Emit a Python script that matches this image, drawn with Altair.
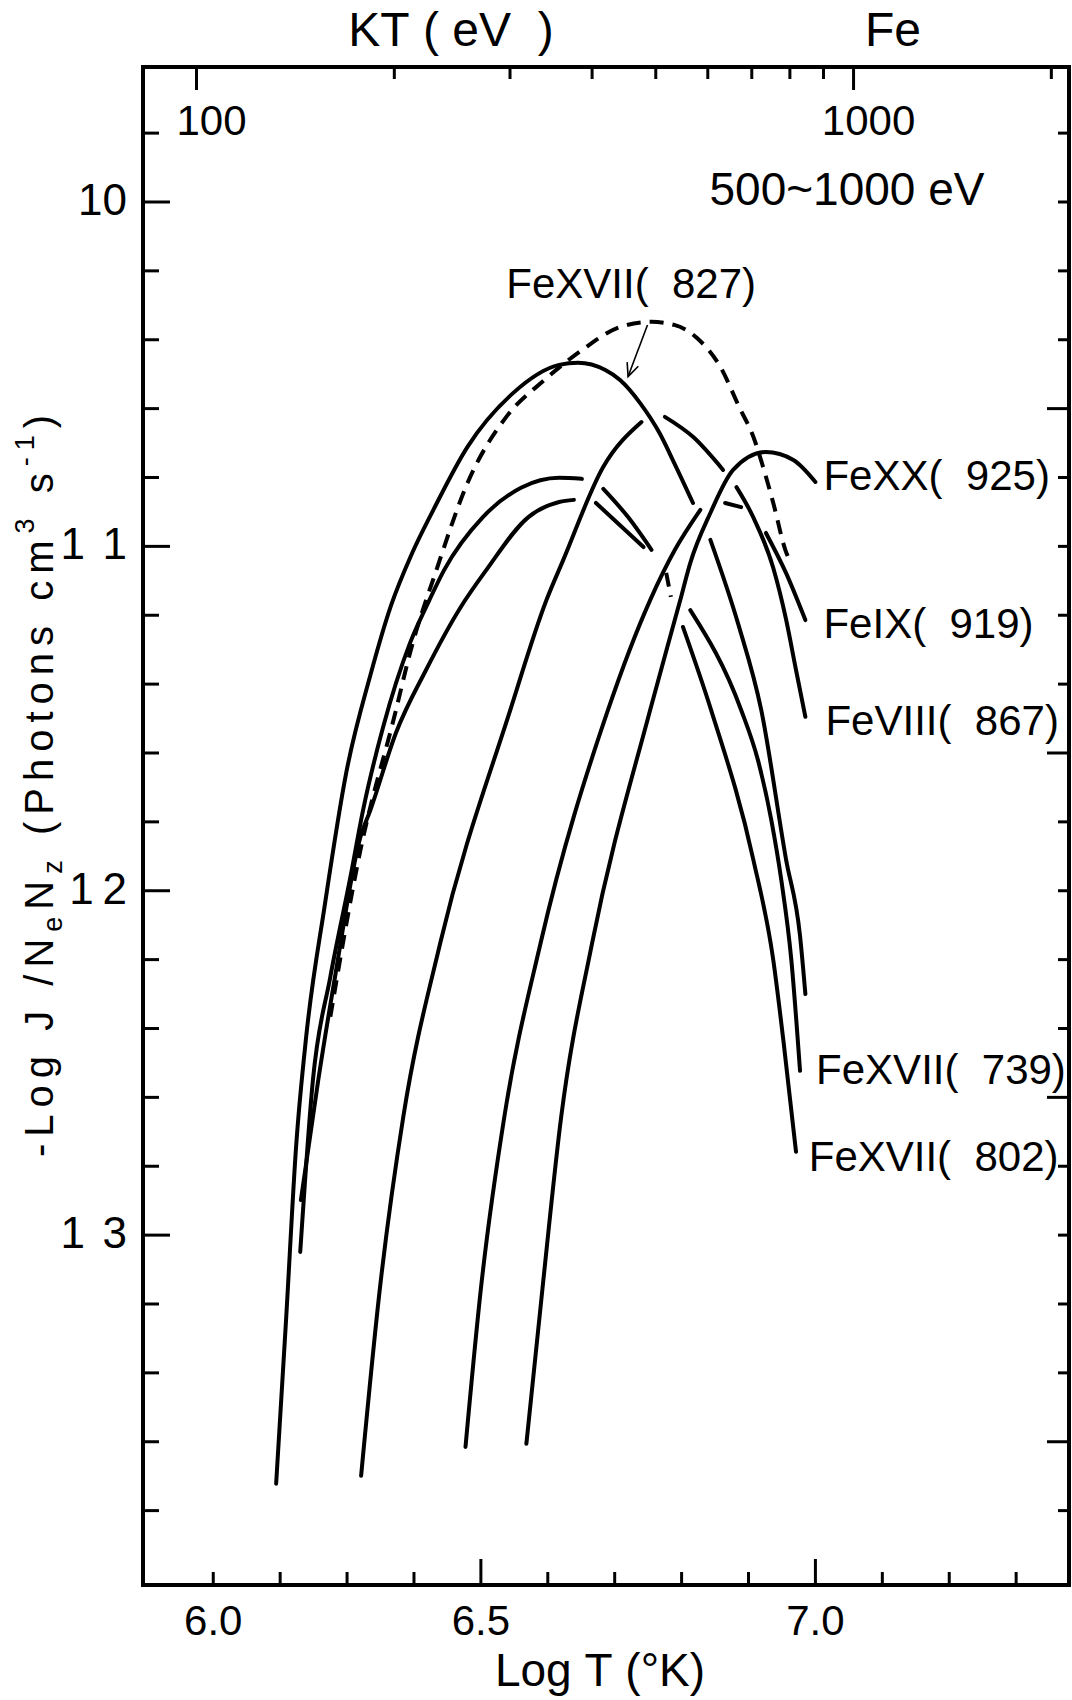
import math
import altair as alt
import pandas as pd

FONT = "Liberation Sans"

# ---------------- curves: x = log T (K), y = -log J/(Ne Nz) ----------------
# each curve is given as drawn pieces (the original breaks lines where others cross)
fe17_827_x = [[6.194, 6.209, 6.224, 6.239, 6.267, 6.299, 6.335, 6.366, 6.396, 6.429, 6.480, 6.548,
               6.617, 6.645, 6.686, 6.708, 6.738, 6.767, 6.789, 6.817],
              [6.843, 6.885, 6.919, 6.956, 6.977, 6.985]]
fe17_827_y = [[13.722, 13.240, 12.738, 12.422, 12.038, 11.655, 11.373, 11.170, 11.025, 10.894, 10.711, 10.555,
               10.473, 10.467, 10.488, 10.517, 10.584, 10.671, 10.758, 10.874],
              [10.981, 11.228, 11.475, 11.908, 12.131, 12.300]]

fe8_867_x = [[6.321, 6.349, 6.384, 6.439, 6.544, 6.598, 6.623, 6.683, 6.740],
             [6.775, 6.817, 6.862],
             [6.882, 6.907, 6.937, 6.956, 6.971, 6.985]]
fe8_867_y = [[13.699, 13.156, 12.657, 12.154, 11.475, 11.156, 11.040, 10.769, 10.639],
             [10.624, 10.682, 10.778],
             [10.828, 10.915, 11.063, 11.211, 11.359, 11.495]]

fe9_919_x = [[6.477, 6.500, 6.535, 6.589, 6.690, 6.753, 6.790, 6.828],
             [6.865, 6.889],
             [6.926, 6.956, 6.985]]
fe9_919_y = [[13.615, 13.156, 12.657, 12.154, 11.475, 11.156, 11.010, 10.894],
             [10.874, 10.886],
             [10.961, 11.077, 11.214]]

fe20_925_x = [[6.568, 6.592, 6.620, 6.666, 6.753, 6.798, 6.813, 6.843, 6.877, 6.926, 6.967, 7.000]]
fe20_925_y = [[13.606, 13.156, 12.657, 12.154, 11.475, 11.156, 11.048, 10.903, 10.778, 10.726, 10.749, 10.813]]

fe17_739_x = [[6.230, 6.249, 6.275, 6.305, 6.324, 6.354, 6.394, 6.423, 6.445, 6.503, 6.560, 6.617, 6.651],
              [6.683, 6.720, 6.755],
              [6.813, 6.889, 6.914, 6.934, 6.949, 6.964, 6.977]]
fe17_739_y = [[13.049, 12.549, 12.250, 11.960, 11.765, 11.524, 11.281, 11.156, 11.069, 10.915, 10.830, 10.801, 10.804],
              [10.833, 10.915, 11.010],
              [11.185, 11.475, 11.620, 11.794, 11.969, 12.201, 12.523]]

fe17_802_x = [[6.231, 6.257, 6.282, 6.320, 6.335, 6.373, 6.418, 6.470, 6.508, 6.571, 6.617, 6.639],
              [6.672, 6.743],
              [6.802, 6.844, 6.907, 6.937, 6.952, 6.971]]
fe17_802_y = [[12.898, 12.549, 12.250, 11.844, 11.765, 11.542, 11.359, 11.176, 11.069, 10.915, 10.871, 10.865],
              [10.874, 11.002],
              [11.234, 11.475, 11.908, 12.201, 12.433, 12.758]]

# dashed FeXVII (827) curve
dash_827_x = [6.275, 6.320, 6.372, 6.394, 6.435, 6.480, 6.538, 6.595, 6.651, 6.708, 6.755, 6.789,
              6.823, 6.858, 6.886, 6.909, 6.920, 6.937, 6.955, 6.961]
dash_827_y = [12.366, 11.882, 11.484, 11.310, 11.060, 10.816, 10.624, 10.517, 10.430, 10.363, 10.348, 10.357,
              10.395, 10.479, 10.595, 10.691, 10.758, 10.874, 11.010, 11.040]
# short dashed bridge in the FeXVII (739) curve
dash_739_x = [6.777, 6.784]
dash_739_y = [11.077, 11.147]

# arrow from the dashed peak to the solid FeXVII (827) curve
arrow_x = [6.749, 6.720]
arrow_y = [10.357, 10.507]

# curve labels
NB = "\u00a0"
label_text = ["FeXVII(" + NB * 2 + "827)", "FeXX(" + NB * 2 + "925)", "FeIX(" + NB * 2 + "919)",
              "FeVIII(" + NB * 2 + "867)", "FeXVII(" + NB * 2 + "739)", "FeXVII(" + NB * 2 + "802)"]
label_x = [6.538, 7.012, 7.012, 7.015, 7.001, 6.990]
label_y = [10.241, 10.798, 11.228, 11.510, 12.523, 12.776]

# bottom axis (log T)
x_minor_ticks = [6.1, 6.2, 6.3, 6.4, 6.6, 6.7, 6.8, 6.9, 7.1, 7.2, 7.3]
x_major_ticks = [6.5, 7.0]
x_label_pos = [6.1, 6.5, 7.0]
x_label_text = ["6.0", "6.5", "7.0"]

# left axis
y_left_minor = [9.8, 10.2, 10.4, 10.6, 10.8, 11.2, 11.4, 11.6, 11.8, 12.2, 12.4, 12.6, 12.8,
                13.2, 13.4, 13.6, 13.8]
y_left_major = [10, 11, 12, 13]
y_label_text = ["10", "1\u2009\u20091", "1\u20092", "1\u2009\u20093"]
# right axis
y_right_minor = [9.8, 10.0, 10.2, 10.4, 10.8, 11.0, 11.2, 11.4, 11.8, 12.0, 12.2, 12.4, 12.8,
                 13.0, 13.2, 13.4, 13.8]
y_right_major = [10.6, 11.6, 12.6, 13.6]

# top axis kT (eV)
kt_minor = [200, 300, 400, 500, 600, 700, 800, 900, 2000]
kt_major = [100, 1000]
kt_label_text = ["100", "1000"]
KT100_LOGT = 6.075   # position of 100 eV on the log T axis
KT_DECADE = 0.982    # one decade of kT in log T units, as drawn


def kt_pos(e):
    return KT100_LOGT + KT_DECADE * math.log10(e / 100.0)


# ---------------- layout ----------------
W, H = 926, 1518
X_DOMAIN = [5.995, 7.379]
Y_DOMAIN = [9.608, 14.016]
xs = alt.Scale(domain=X_DOMAIN, nice=False, zero=False)
ys = alt.Scale(domain=Y_DOMAIN, reverse=True, nice=False, zero=False)
LW = 4.0

one = pd.DataFrame({"a": [0]})

# ---------------- build tables ----------------
curves = [
    ("827", fe17_827_x, fe17_827_y),
    ("867", fe8_867_x, fe8_867_y),
    ("919", fe9_919_x, fe9_919_y),
    ("925", fe20_925_x, fe20_925_y),
    ("739", fe17_739_x, fe17_739_y),
    ("802", fe17_802_x, fe17_802_y),
]
rows = []
for name, cx, cy in curves:
    for i, (px, py) in enumerate(zip(cx, cy)):
        for a, b in zip(px, py):
            rows.append({"lx": a, "ly": b, "piece": f"{name}-{i}"})
solid_df = pd.DataFrame(rows)
dash_rows = [{"lx": a, "ly": b, "piece": "827d"} for a, b in zip(dash_827_x, dash_827_y)]
dash_rows += [{"lx": a, "ly": b, "piece": "739d"} for a, b in zip(dash_739_x, dash_739_y)]
dash_df = pd.DataFrame(dash_rows)

layers = []


def vticks(vals, y0, y1):
    return alt.Chart(pd.DataFrame({"v": vals})).mark_rule(color="black", strokeWidth=3).encode(
        x=alt.X("v:Q", scale=xs, axis=None), y=alt.value(y0), y2=alt.value(y1))


def hticks(vals, x0, x1):
    return alt.Chart(pd.DataFrame({"v": vals})).mark_rule(color="black", strokeWidth=3).encode(
        y=alt.Y("v:Q", scale=ys, axis=None), x=alt.value(x0), x2=alt.value(x1))


layers.append(vticks(x_minor_ticks, H, H - 13))
layers.append(vticks(x_major_ticks, H, H - 26))
layers.append(vticks([kt_pos(e) for e in kt_minor], 0, 12))
layers.append(vticks([kt_pos(e) for e in kt_major], 0, 23))
layers.append(hticks(y_left_minor, 0, 16))
layers.append(hticks(y_left_major, 0, 27))
layers.append(hticks(y_right_minor, W, W - 11))
layers.append(hticks(y_right_major, W, W - 22))

# dashed curves
layers.append(alt.Chart(dash_df).mark_line(color="black", strokeWidth=LW, strokeDash=[14, 9],
                                           interpolate="monotone").encode(
    x=alt.X("lx:Q", scale=xs, axis=None), y=alt.Y("ly:Q", scale=ys, axis=None), detail="piece:N"))

# solid curves
layers.append(alt.Chart(solid_df).mark_line(color="black", strokeWidth=LW, interpolate="monotone",
                                            strokeCap="round").encode(
    x=alt.X("lx:Q", scale=xs, axis=None), y=alt.Y("ly:Q", scale=ys, axis=None), detail="piece:N"))

# arrow
arrow_df = pd.DataFrame({"x": [arrow_x[0]], "y": [arrow_y[0]], "x2": [arrow_x[1]], "y2": [arrow_y[1]]})
layers.append(alt.Chart(arrow_df).mark_rule(color="black", strokeWidth=1.6).encode(
    x=alt.X("x:Q", scale=xs, axis=None), y=alt.Y("y:Q", scale=ys, axis=None), x2="x2:Q", y2="y2:Q"))
px_per_x = W / (X_DOMAIN[1] - X_DOMAIN[0])
px_per_y = H / (Y_DOMAIN[1] - Y_DOMAIN[0])
dxp = (arrow_x[1] - arrow_x[0]) * px_per_x
dyp = (arrow_y[1] - arrow_y[0]) * px_per_y
head_angle = math.degrees(math.atan2(-dxp, dyp)) % 360
head_df = pd.DataFrame({"x": [arrow_x[1]], "y": [arrow_y[1]]})
layers.append(alt.Chart(head_df).mark_point(shape="M -0.45 -1 L 0 0 L 0.45 -1", size=700, filled=False,
                                            color="black", strokeWidth=1.6, angle=head_angle, opacity=1).encode(
    x=alt.X("x:Q", scale=xs, axis=None), y=alt.Y("y:Q", scale=ys, axis=None)))

# curve labels
lab_df = pd.DataFrame({"x": label_x, "y": label_y, "t": label_text})
layers.append(alt.Chart(lab_df).mark_text(font=FONT, fontSize=42, align="left", baseline="middle",
                                          color="black").encode(
    x=alt.X("x:Q", scale=xs, axis=None), y=alt.Y("y:Q", scale=ys, axis=None), text="t:N"))

# bottom tick labels
xl_df = pd.DataFrame({"x": x_label_pos, "t": x_label_text})
layers.append(alt.Chart(xl_df).mark_text(font=FONT, fontSize=42, align="center", baseline="middle",
                                         color="black").encode(
    x=alt.X("x:Q", scale=xs, axis=None), y=alt.value(H + 37), text="t:N"))

# left tick labels
yl_df = pd.DataFrame({"y": y_left_major, "t": y_label_text})
layers.append(alt.Chart(yl_df).mark_text(font=FONT, fontSize=44, align="right", baseline="middle",
                                         color="black").encode(
    y=alt.Y("y:Q", scale=ys, axis=None), x=alt.value(-16), text="t:N"))

# top kT labels
kl_df = pd.DataFrame({"x": [kt_pos(e) for e in kt_major], "t": kt_label_text})
layers.append(alt.Chart(kl_df).mark_text(font=FONT, fontSize=42, align="center", baseline="middle",
                                         color="black", dx=15).encode(
    x=alt.X("x:Q", scale=xs, axis=None), y=alt.value(55), text="t:N"))


def txt(s, x, y, size, **kw):
    return alt.Chart(one).mark_text(text=s, font=FONT, fontSize=size, color="black", **kw).encode(
        x=alt.value(x), y=alt.value(y))


layers.append(txt("KT" + NB + "(" + NB + "eV" + NB * 2 + ")", 308, -35, 48, align="center", baseline="middle"))
layers.append(txt("Fe", 750, -35, 48, align="center", baseline="middle"))
layers.append(txt("500~1000" + NB + "eV", 704, 124, 46, align="center", baseline="middle"))
layers.append(txt("Log" + NB + "T" + NB + "(°K)", 457, 1605, 46, align="center", baseline="middle"))

# y-axis title, set character by character (rotated), with sub- and superscripts
AW = {" ": 0.278, "-": 0.333, "L": 0.556, "o": 0.556, "g": 0.556, "J": 0.5, "/": 0.278, "N": 0.722,
      "e": 0.556, "z": 0.5, "(": 0.333, ")": 0.333, "P": 0.667, "h": 0.556, "t": 0.278, "n": 0.556,
      "s": 0.5, "c": 0.5, "m": 0.833, "3": 0.556, "1": 0.556}
ytitle_parts = [("-Log J /N", "main"), ("e", "sub"), ("N", "main"), ("z", "sub"),
                (" (Photons cm", "main"), ("3", "sup"), (" s", "main"), ("-1", "sup"), (")", "main")]
MAIN_FS, SMALL_FS = 40, 27
base_x = {"main": -90, "sub": -81, "sup": -109}
start_y, end_y = 1090, 348
chars = [(c, k) for part, k in ytitle_parts for c in part]
sizes = [MAIN_FS if k == "main" else SMALL_FS for c, k in chars]
widths = [AW[c] * s for (c, k), s in zip(chars, sizes)]
ls = ((start_y - end_y) - sum(widths)) / (len(chars) - 1)
cy = start_y
for (c, k), s, w in zip(chars, sizes, widths):
    if c != " ":
        layers.append(txt(c, base_x[k], cy, s, angle=270, align="left", baseline="alphabetic"))
    cy -= w + ls

chart = alt.layer(*layers).properties(
    width=W, height=H,
    padding={"left": 143, "top": 67, "right": 3, "bottom": 115},
    autosize=alt.AutoSizeParams(type="none"),
).configure_view(stroke="black", strokeWidth=4)

chart.save("out.html", embed_options={"renderer": "svg", "actions": False})
